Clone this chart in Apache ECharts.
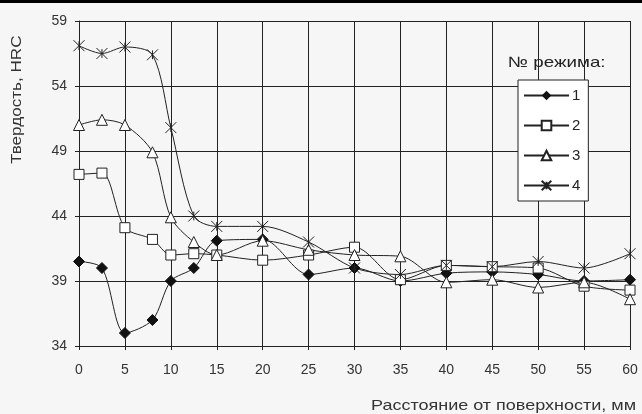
<!DOCTYPE html>
<html>
<head>
<meta charset="utf-8">
<script src="https://cdn.jsdelivr.net/npm/echarts@6/dist/echarts.min.js"></script>
<style>
  html, body { margin: 0; padding: 0; background: #f6f6f6; }
  #chart { width: 642px; height: 414px; }
</style>
</head>
<body>
<div id="chart"></div>
<script>
// расстояние от поверхности, мм
var distances = [0, 2.5, 5, 8, 10, 12.5, 15, 20, 25, 30, 35, 40, 45, 50, 55, 60];
// твердость по режимам
var mode1 = [40.5, 40.0, 35.0, 36.0, 39.0, 40.0, 42.1, 42.2, 39.5, 40.0, 39.0, 39.6, 39.7, 39.5, 39.0, 39.1];
var mode2 = [47.2, 47.3, 43.1, 42.2, 41.0, 41.1, 41.0, 40.6, 41.0, 41.6, 39.1, 40.2, 40.1, 40.0, 38.6, 38.3];
var mode3 = [51.0, 51.4, 51.0, 48.9, 43.9, 42.0, 41.0, 42.1, 41.4, 41.0, 40.9, 38.9, 39.1, 38.5, 38.9, 37.6];
var mode4 = [57.1, 56.5, 57.0, 56.4, 50.8, 44.0, 43.2, 43.2, 42.0, 40.0, 39.5, 40.2, 40.1, 40.5, 40.0, 41.1];
var modeNames = ['1', '2', '3', '4'];

var font = '"Liberation Sans", Arial, sans-serif';

function pairs(ys) {
  var out = [];
  for (var i = 0; i < distances.length; i++) {
    out.push([distances[i], ys[i]]);
  }
  return out;
}

var chart = echarts.init(document.getElementById('chart'));

var lineStyle = { color: '#222', width: 1 };

var option = {
  backgroundColor: '#f6f6f6',
  animation: false,
  grid: { left: 79, right: 12, top: 21, bottom: 68 },
  legend: {
    orient: 'vertical',
    left: 518,
    top: 80,
    width: 69,
    itemWidth: 45,
    itemHeight: 12,
    itemGap: 15,
    padding: [8, 8, 8, 5],
    backgroundColor: '#fff',
    borderColor: '#222',
    borderWidth: 1,
    textStyle: { fontFamily: font, fontSize: 15, color: '#222', padding: [0, 0, 0, -2] },
    data: modeNames
  },
  xAxis: {
    type: 'value',
    min: 0, max: 60, interval: 5,
    axisLine: { show: true, lineStyle: { color: '#222' } },
    axisTick: { show: true, length: 4, lineStyle: { color: '#222' } },
    axisLabel: { margin: 17, fontFamily: font, fontSize: 14, color: '#333' },
    splitLine: { show: true, lineStyle: { color: '#222', width: 1 } }
  },
  yAxis: {
    type: 'value',
    min: 34, max: 59, interval: 5,
    axisLine: { show: true, lineStyle: { color: '#222' } },
    axisTick: { show: true, length: 4, lineStyle: { color: '#222' } },
    axisLabel: { margin: 12, fontFamily: font, fontSize: 14, color: '#333' },
    splitLine: { show: true, lineStyle: { color: '#222', width: 1 } }
  },
  graphic: [
    { type: 'rect', left: 0, top: 0, shape: { width: 642, height: 3 }, style: { fill: '#000' } },
    { type: 'rect', left: 630, top: 21, shape: { width: 1, height: 325 }, style: { fill: '#222' } },
    { type: 'text', x: 508, y: 63, scaleX: 1.25,
      style: { text: '№ режима:', font: '15px ' + font, fill: '#222', align: 'left', verticalAlign: 'middle' } },
    { type: 'text', x: 636, y: 406, scaleX: 1.2,
      style: { text: 'Расстояние от поверхности, мм', font: '15px ' + font, fill: '#333', align: 'right', verticalAlign: 'middle' } },
    { type: 'text', x: 17, y: 164, rotation: Math.PI / 2, scaleX: 1.14,
      style: { text: 'Твердость, HRC', font: '15px ' + font, fill: '#333', align: 'left', verticalAlign: 'middle' } }
  ],
  series: [
    {
      name: '1', type: 'line', smooth: 0.3,
      symbol: 'diamond', symbolSize: 11,
      itemStyle: { color: '#111', borderColor: '#111' },
      lineStyle: lineStyle,
      data: pairs(mode1)
    },
    {
      name: '2', type: 'line', smooth: 0.3,
      symbol: 'rect', symbolSize: 10,
      itemStyle: { color: '#fff', borderColor: '#222', borderWidth: 1 },
      lineStyle: lineStyle,
      data: pairs(mode2)
    },
    {
      name: '3', type: 'line', smooth: 0.3,
      symbol: 'triangle', symbolSize: 11,
      itemStyle: { color: '#fff', borderColor: '#222', borderWidth: 1 },
      lineStyle: lineStyle,
      data: pairs(mode3)
    },
    {
      name: '4', type: 'line', smooth: 0.3,
      symbol: 'path://M0,0L10,10M10,0L0,10M5,1L5,9', symbolSize: 11,
      itemStyle: { color: 'none', borderColor: '#222', borderWidth: 1 },
      lineStyle: lineStyle,
      data: pairs(mode4)
    }
  ]
};

chart.setOption(option);
</script>
</body>
</html>
